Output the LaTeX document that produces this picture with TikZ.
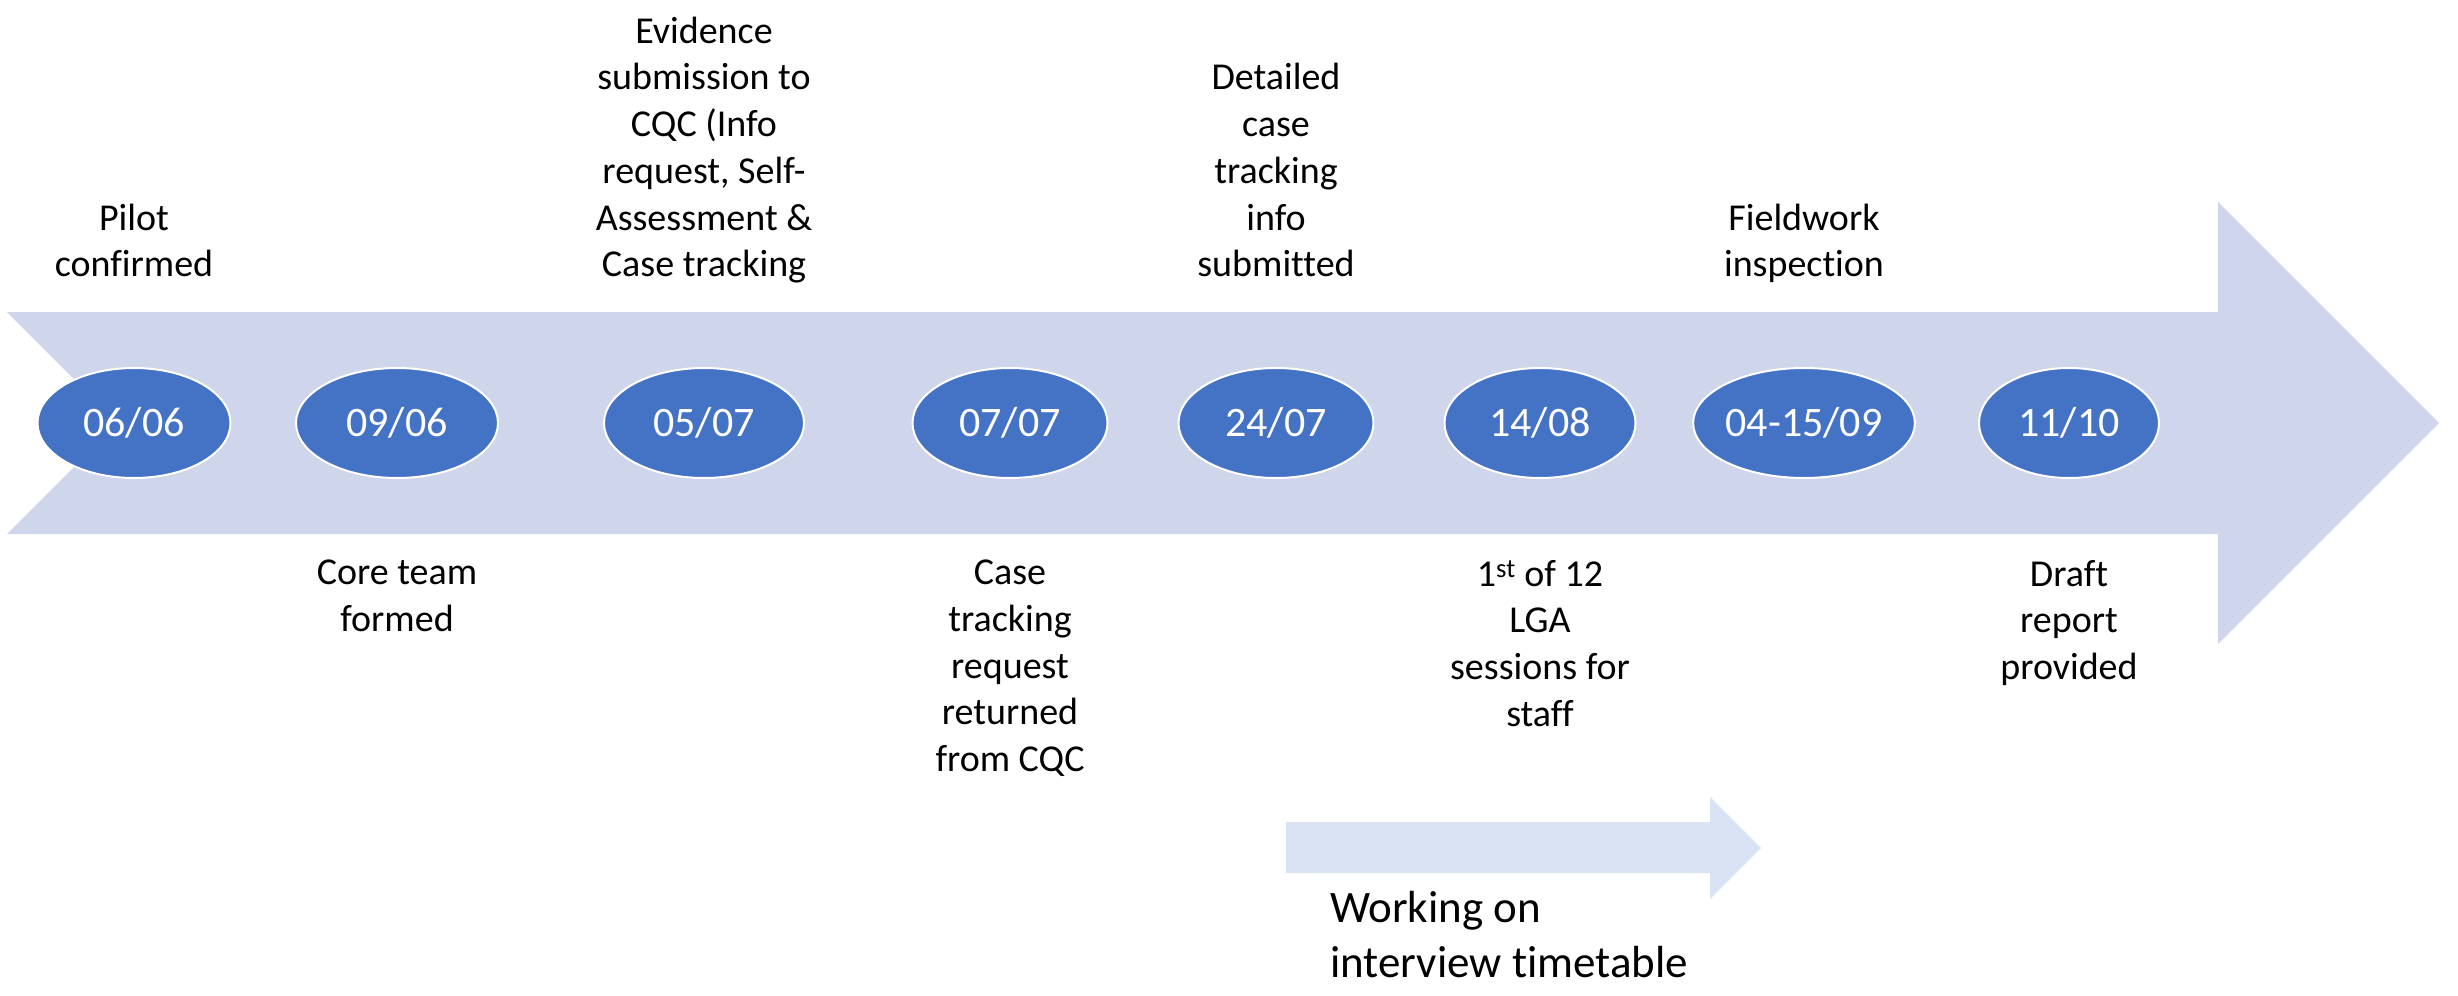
\documentclass[tikz,border=0pt]{standalone}
\usepackage{fontspec}
\setmainfont{Carlito}[Ligatures=NoCommon]
\usetikzlibrary{shapes.geometric, positioning}
\definecolor{ArrowBg}{HTML}{CFD5EA}
\definecolor{DateFill}{HTML}{4472C4}
\definecolor{SideArrowBg}{HTML}{DAE3F3}

\begin{document}
\begin{tikzpicture}[
    x=1pt, y=-1pt,
    date/.style={ellipse, draw=white, line width=2pt, fill=DateFill, minimum width=195pt, minimum height=110pt, inner sep=0pt, outer sep=0pt, text=white, font=\fontsize{42}{50}\selectfont},
    note/.style={align=center, inner sep=0pt, font=\fontsize{38}{46.7}\selectfont, execute at begin node=\strut, execute at end node=\strut},
    sidenote/.style={align=left, inner sep=0pt, anchor=north west, font=\fontsize{45}{55}\selectfont, execute at begin node=\strut}
  ]
  \useasboundingbox (0,0) rectangle (2458,996);

  % timeline arrow with notched tail
  \fill[ArrowBg] (7,312) -- (2218,312) -- (2218,202) -- (2439,423) -- (2218,644) -- (2218,534) -- (7,534) -- (118,423) -- cycle;

  % dates
  \node[date, minimum width=193pt] (d1) at (134,423) {06/06};
  \node[date, minimum width=202pt] (d2) at (397,423) {09/06};
  \node[date, minimum width=200pt] (d3) at (704,423) {05/07};
  \node[date] (d4) at (1010,423) {07/07};
  \node[date] (d5) at (1276,423) {24/07};
  \node[date, minimum width=191pt] (d6) at (1540,423) {14/08};
  \node[date, minimum width=187pt] (d7) at (1804,423) {04-15/09};
  \node[date, minimum width=180pt] (d8) at (2069,423) {11/10};

  % events above
  \node[note, above=77pt of d1] (pilot) {Pilot\\confirmed};
  \node[note, above=77pt of d3] (evidence) {Evidence\\submission to\\CQC (Info\\request, Self-\\Assessment \&\\Case tracking};
  \node[note, above=77pt of d5] (detailed) {Detailed\\case\\tracking\\info\\submitted};
  \node[note, above=77pt of d7] (fieldwork) {Fieldwork\\inspection};

  % events below
  \node[note, below=82pt of d2] (core) {Core team\\formed};
  \node[note, below=82pt of d4] (returned) {Case\\tracking\\request\\returned\\from CQC};
  \node[note, below=82pt of d6] (lga) {1\textsuperscript{st} of 12\\LGA\\sessions for\\staff};
  \node[note, below=82pt of d8] (draft) {Draft\\report\\provided};

  % interview timetable
  \fill[SideArrowBg] (1286,822) -- (1710,822) -- (1710,797) -- (1761,848) -- (1710,899) -- (1710,873) -- (1286,873) -- cycle;
  \node[sidenote] (timetable) at (1330,891) {Working on\\interview timetable};
\end{tikzpicture}
\end{document}
